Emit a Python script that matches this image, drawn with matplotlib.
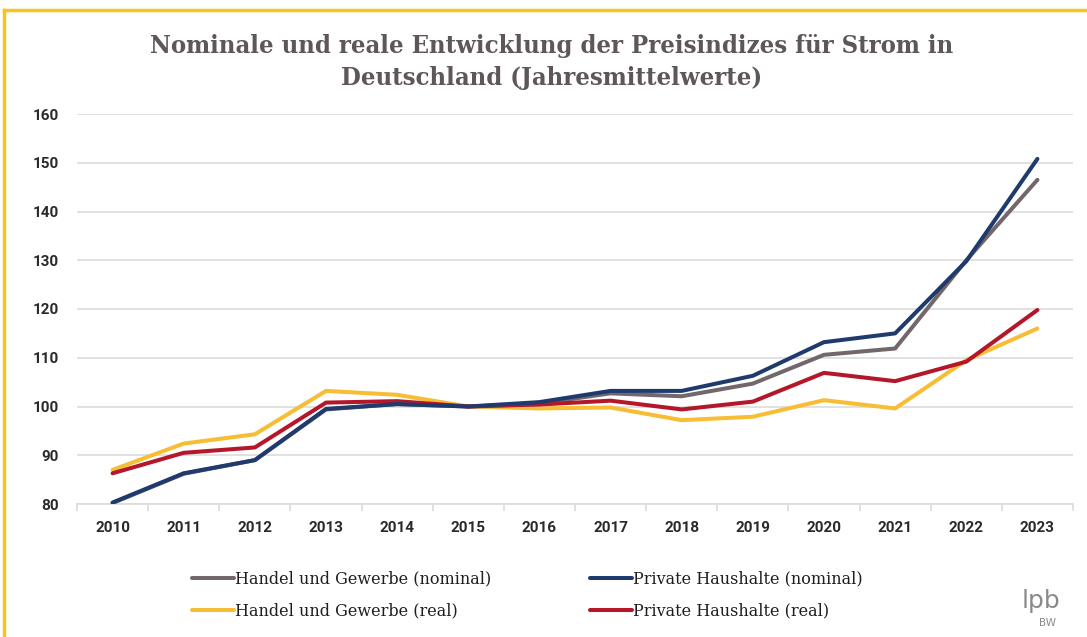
import matplotlib
matplotlib.use("Agg")
import matplotlib.pyplot as plt
from matplotlib.lines import Line2D
import numpy as np

years = ["2010", "2011", "2012", "2013", "2014", "2015", "2016",
         "2017", "2018", "2019", "2020", "2021", "2022", "2023"]
hg_nominal = [80.2, 86.2, 89.0, 99.4, 100.5, 100.0, 100.6, 102.7, 102.1, 104.7, 110.6, 111.9, 130.0, 146.5]
ph_nominal = [80.3, 86.3, 89.0, 99.5, 100.5, 100.0, 100.9, 103.2, 103.2, 106.3, 113.2, 115.0, 129.8, 150.8]
hg_real = [87.0, 92.4, 94.3, 103.2, 102.4, 100.0, 99.6, 99.8, 97.2, 97.9, 101.3, 99.6, 109.5, 116.0]
ph_real = [86.3, 90.5, 91.6, 100.8, 101.1, 100.0, 100.4, 101.2, 99.4, 101.0, 106.9, 105.2, 109.2, 119.8]

labels = ["Handel und Gewerbe (nominal)", "Handel und Gewerbe (real)",
          "Private Haushalte (nominal)", "Private Haushalte (real)"]
colors = {"hgn": "#72686b", "hgr": "#f7bd35", "phn": "#1f3b6e", "phr": "#b5172a"}
title = "Nominale und reale Entwicklung der Preisindizes für Strom in\nDeutschland (Jahresmittelwerte)"

W, H = 1087, 637
fig = plt.figure(figsize=(W / 100, H / 100), dpi=100)
ax = fig.add_axes([77 / W, 1 - 504 / H, (1073 - 77) / W, (504 - 114) / H])

x = np.arange(len(years))
lw = 2.9
l_hgr, = ax.plot(x, hg_real, color=colors["hgr"], lw=lw, solid_capstyle="round", zorder=3)
l_hgn, = ax.plot(x, hg_nominal, color=colors["hgn"], lw=lw, solid_capstyle="round", zorder=4)
l_phr, = ax.plot(x, ph_real, color=colors["phr"], lw=lw, solid_capstyle="round", zorder=5)
l_phn, = ax.plot(x, ph_nominal, color=colors["phn"], lw=lw, solid_capstyle="round", zorder=6)

ax.set_xlim(-0.5, len(years) - 0.5)
ax.set_ylim(80, 160)
ax.set_yticks(np.arange(80, 161, 10))
ax.set_xticks(x)
ax.set_xticklabels(years)
ax.set_xticks(np.arange(-0.5, len(years), 1.0), minor=True)
ax.grid(axis="y", color="#dcdcdc", lw=1.2)
ax.set_axisbelow(True)
for s in ["top", "right", "left"]:
    ax.spines[s].set_visible(False)
ax.spines["bottom"].set_color("#dcdcdc")
ax.spines["bottom"].set_linewidth(1.2)
ax.tick_params(axis="x", which="major", length=0, pad=12)
ax.tick_params(axis="x", which="minor", length=5, color="#dcdcdc", width=1.2)
ax.tick_params(axis="y", length=0, pad=13)
for t in ax.get_xticklabels() + ax.get_yticklabels():
    t.set_fontfamily("Roboto")
    t.set_fontweight("bold")
    t.set_fontsize(11)
    t.set_color("#2a2a2a")

fig.text(552 / W, 1 - 62 / H, title, ha="center", va="center",
         fontsize=18.3, fontweight="bold", color="#5f5658",
         family="DejaVu Serif", linespacing=1.4, stretch="condensed")

handles = [l_hgn, l_hgr, l_phn, l_phr]
legprops = dict(ncol=1, frameon=False, loc="center left", borderpad=0,
                handlelength=2.6, handletextpad=0.1, labelspacing=0.95,
                prop=dict(family="DejaVu Serif", size=11.5))
leg1 = fig.legend(handles[:2], labels[:2], bbox_to_anchor=(184 / W, 1 - 595 / H), **legprops)
leg2 = fig.legend(handles[2:], labels[2:], bbox_to_anchor=(582 / W, 1 - 595 / H), **legprops)
for lg in (leg1, leg2):
    for t in lg.get_texts():
        t.set_color("#1e1e1e")

fig.text(1041 / W, 1 - 601 / H, "lpb", ha="center", va="center", fontsize=18,
         color="#8a8a8a", family="DejaVu Sans")
fig.text(1047 / W, 1 - 623 / H, "BW", ha="center", va="center", fontsize=7.5,
         color="#8a8a8a", family="DejaVu Sans")

# frame
border = "#f7c520"
fig.add_artist(Line2D([4 / W, 1.0], [1 - 10 / H, 1 - 10 / H], color=border, lw=2.5, transform=fig.transFigure))
fig.add_artist(Line2D([4 / W, 4 / W], [0, 1 - 10 / H], color=border, lw=2.5, transform=fig.transFigure))

fig.savefig("out.png", dpi=100, facecolor="white")
